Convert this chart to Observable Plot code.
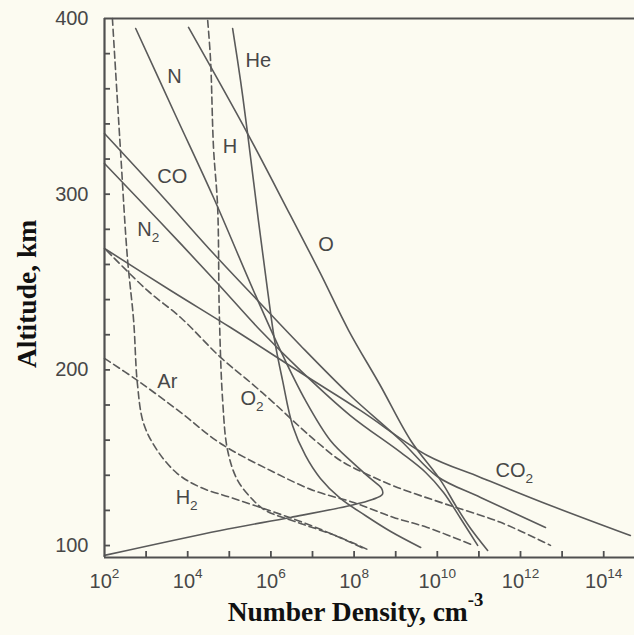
<!DOCTYPE html>
<html><head><meta charset="utf-8">
<script src="https://cdn.jsdelivr.net/npm/d3@7"></script>
<script src="https://cdn.jsdelivr.net/npm/@observablehq/plot@0.6"></script>
<style>
html,body{margin:0;padding:0;background:#fcfbf1;}
#chart{width:634px;height:635px;overflow:hidden;}
</style></head><body><div id="chart"></div>
<script>
// Altitude (km) and log10 number density (cm^-3)
const co2Alt  = [269.1,245.2,224.1,198.5,176.9,151.3,138.8,122.8,105.7];
const co2LogN = [2.00,3.59,5.03,6.71,8.15,9.76,11.04,12.72,14.64];
const coAlt   = [334.5,299.8,266.2,237.8,213.9,185.4,159.8,139.3,127.4,110.3];
const coLogN  = [2.00,3.35,4.62,5.75,6.71,7.91,9.12,10.00,11.04,12.60];
const n2Alt   = [317.5,283.9,249.2,222.4,199.7,174.0,153.0,141.6,130.2,115.4,100.1];
const n2LogN  = [2.00,3.35,4.72,5.75,6.71,7.91,9.12,9.72,10.15,10.56,10.97];
const oAlt    = [394.9,334.5,287.9,254.9,222.4,191.1,159.8,137.1,122.8,109.7,97.2];
const oLogN   = [4.02,5.44,6.47,7.19,7.87,8.63,9.36,10.08,10.44,10.80,11.21];
const heAlt   = [394.3,364.7,334.5,285.0,245.2,216.7,194.0,168.4,151.3,138.2,126.8,117.1,108.0,98.9];
const heLogN  = [5.08,5.27,5.44,5.70,5.92,6.09,6.28,6.52,6.83,7.19,7.67,8.27,8.88,9.60];
const nAlt    = [394.3,344.8,298.1,245.2,211.0,182.6,159.8,147.3,138.2,132.5,129.1,126.2,122.8,116.0,108.6,94.4];
const nLogN   = [2.75,3.71,4.62,5.58,6.23,6.83,7.43,7.96,8.39,8.66,8.68,8.44,7.91,6.47,4.79,2.00];
const h2Alt   = [400,326.6,264.0,228.1,192.3,169.5,154.1,141.0,133.1,127.4,121.1,114.3,106.9,98.4];
const h2LogN  = [2.19,2.38,2.55,2.70,2.79,2.94,3.27,3.75,4.31,5.03,5.82,6.64,7.43,8.23];
const hAlt    = [398.9,376.1,326.6,292.4,232.1,182.6,154.1,137.1,125.7,120.0,112.6,105.7,97.8];
const hLogN   = [4.48,4.55,4.62,4.72,4.76,4.84,4.96,5.20,5.58,5.87,6.71,7.55,8.32];
const o2Alt   = [268.0,245.2,229.8,207.1,192.8,181.4,167.2,158.7,148.4,140.5,133.1,124.0,113.2,100.1];
const o2LogN  = [2.05,3.03,3.83,4.79,5.51,6.06,6.71,7.12,7.67,8.32,9.04,10.15,11.52,12.72];
const arAlt   = [206.5,194.0,175.8,158.1,142.7,131.4,124.5,116.0,110.3,100.1];
const arLogN  = [2.00,2.79,3.83,4.79,5.99,7.02,7.99,8.95,9.76,10.87];

// Curve labels
const labelText = ["N","He","H","CO","O","N_2","Ar","O_2","H_2","CO_2"];
const labelLogN = [3.51,5.39,4.84,3.27,7.14,2.79,3.27,5.27,3.71,11.40];
const labelAlt  = [367.0,376.1,327.1,310.1,271.4,279.9,193.4,183.7,127.4,142.7];

// Axes
const xDomainExp = [2, 14.74];
const yDomain = [93.2, 400];
const xTickExp = [3,4,5,6,7,8,9,10,11,12,13,14];
const xLabelExp = [2,4,6,8,10,12,14];
const yTicks = [100,120,140,160,180,200,220,240,260,280,300,320,340,360,380];
const yLabels = [100,200,300,400];

const solid = [
  ["CO2", co2Alt, co2LogN], ["CO", coAlt, coLogN], ["N2", n2Alt, n2LogN],
  ["O", oAlt, oLogN], ["He", heAlt, heLogN], ["N", nAlt, nLogN]
];
const dashed = [
  ["H2", h2Alt, h2LogN], ["H", hAlt, hLogN], ["O2", o2Alt, o2LogN], ["Ar", arAlt, arLogN]
];
const toRows = (list) => list.flatMap(([name, alt, ln]) => alt.map((a, i) => ({species: name, alt: a, n: Math.pow(10, ln[i])})));
const solidRows = toRows(solid);
const dashedRows = toRows(dashed);
const labels = labelText.map((t, i) => ({text: t, n: Math.pow(10, labelLogN[i]), alt: labelAlt[i]}));

const lineColor = "#5a5a5a";
const axisColor = "#505050";
const textColor = "#474747";
const W = 634, H = 635, mL = 104, mR = 0, mT = 18, mB = 78;
const tickLen = 6;

const chart = Plot.plot({
  width: W, height: H,
  marginLeft: mL, marginRight: mR, marginTop: mT, marginBottom: mB,
  style: {background: "transparent", fontFamily: "'Liberation Sans', Arial, sans-serif", fontSize: "20px", color: textColor, overflow: "visible"},
  x: {type: "log", domain: xDomainExp.map(e => Math.pow(10, e))},
  y: {domain: yDomain},
  marks: [
    Plot.line(solidRows, {x: "n", y: "alt", z: "species", stroke: lineColor, strokeWidth: 1.6, curve: "catmull-rom"}),
    Plot.line(dashedRows, {x: "n", y: "alt", z: "species", stroke: lineColor, strokeWidth: 1.6, strokeDasharray: "7,4", curve: "catmull-rom"}),
    Plot.text(labels, {x: "n", y: "alt", text: "text", textAnchor: "start", fill: textColor, fontSize: 20}),
    // inward ticks
    Plot.tickX(xTickExp.map(e => Math.pow(10, e)), {x: d => d, insetTop: (H - mT - mB) - tickLen, stroke: axisColor, strokeWidth: 1.8}),
    Plot.tickY(yTicks, {y: d => d, insetRight: (W - mL - mR) - tickLen, stroke: axisColor, strokeWidth: 1.8}),
    // axis lines
    Plot.ruleX([Math.pow(10, xDomainExp[0])], {stroke: axisColor, strokeWidth: 2.2}),
    Plot.ruleY([yDomain[0]], {stroke: axisColor, strokeWidth: 2.2}),
    Plot.ruleY([yDomain[1]], {stroke: axisColor, strokeWidth: 2.2}),
    // tick labels
    Plot.axisX(xLabelExp.map(e => Math.pow(10, e)), {anchor: "bottom", tickSize: 0, tickPadding: 16, tickFormat: d => "10^" + Math.round(Math.log10(d)), label: null, fontSize: 20, fill: textColor}),
    Plot.axisY(yLabels, {anchor: "left", tickSize: 0, tickPadding: 16, tickFormat: d => String(d), label: null, fontSize: 20, fill: textColor}),
    // titles
    Plot.text(["Altitude, km"], {frameAnchor: "left", textAnchor: "middle", lineAnchor: "middle", dx: -77, dy: 6, rotate: -90, fontFamily: "'Liberation Serif', 'Times New Roman', serif", fontWeight: "bold", fontSize: 27.5, fill: "#111"}),
    Plot.text(["Number Density, cm^-3"], {frameAnchor: "bottom", textAnchor: "middle", lineAnchor: "bottom", dx: -14, dy: 63, fontFamily: "'Liberation Serif', 'Times New Roman', serif", fontWeight: "bold", fontSize: 27.5, fill: "#111"})
  ]
});

// super/subscripts as real text tspans
const ns = "http://www.w3.org/2000/svg";
chart.querySelectorAll("text").forEach(t => {
  const s = t.textContent;
  const m = s.match(/^(.*?)([\^_])(.+)$/);
  if (!m || t.children.length) return;
  t.textContent = "";
  const base = document.createElementNS(ns, "tspan");
  base.textContent = m[1];
  t.appendChild(base);
  const sc = document.createElementNS(ns, "tspan");
  sc.textContent = m[3];
  sc.setAttribute("font-size", "0.68em");
  sc.setAttribute("dy", m[2] === "^" ? "-0.75em" : "0.45em");
  t.appendChild(sc);
});
document.getElementById("chart").appendChild(chart);
</script>
</body></html>
